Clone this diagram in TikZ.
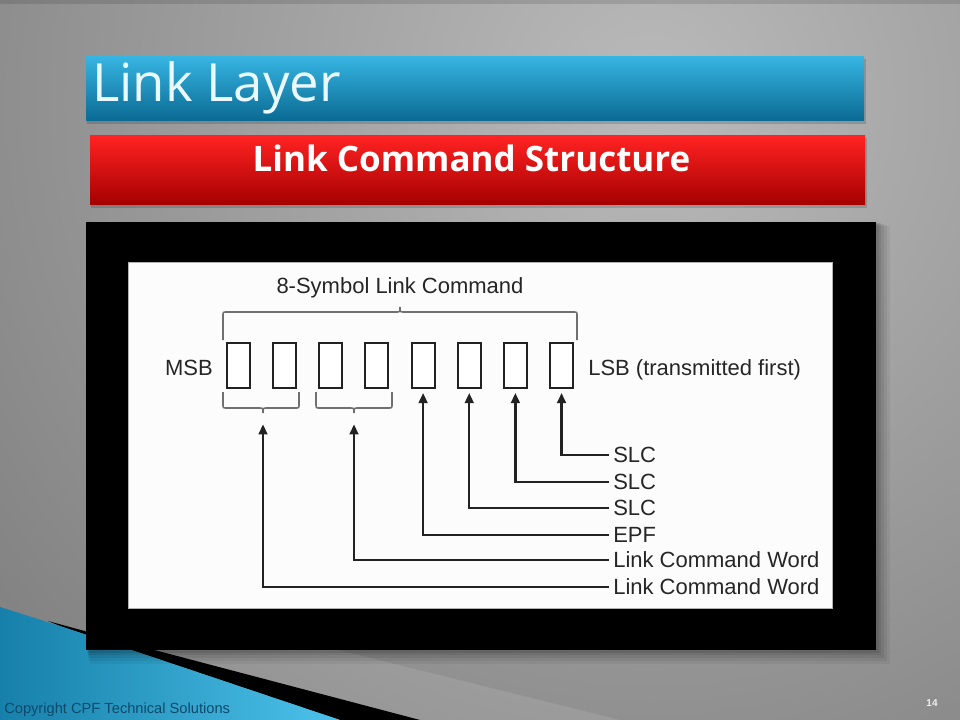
\documentclass[tikz,border=0pt]{standalone}
\usepackage{fontspec}
\setmainfont{Liberation Sans}
\newfontfamily\titlefont{Open Sans}
\usetikzlibrary{arrows.meta}
\definecolor{bgin}{HTML}{BABABA}
\definecolor{bgout}{HTML}{4E4E4E}
\definecolor{bluetop}{HTML}{36B4E2}
\definecolor{bluemid}{HTML}{1690BE}
\definecolor{bluebot}{HTML}{0A6A92}
\definecolor{redtop}{HTML}{FF2222}
\definecolor{redmid}{HTML}{E20404}
\definecolor{redbot}{HTML}{A40000}
\definecolor{decoL}{HTML}{1680AA}
\definecolor{decoR}{HTML}{4CC2EA}
\definecolor{ink}{HTML}{222222}
\definecolor{txt}{HTML}{262626}
\definecolor{bracec}{HTML}{707070}
\definecolor{copyc}{HTML}{0C4A6C}
\definecolor{titlec}{HTML}{EAF8FF}
\tikzset{
  sym/.style={draw=ink, line width=1.5pt, minimum width=17.25pt, minimum height=33.75pt, inner sep=0pt, fill=white},
  lbl/.style={font=\fontsize{16.5}{19}\selectfont, text=txt, inner xsep=3pt, inner ysep=0pt, anchor=west},
  plain/.style={font=\fontsize{16.5}{19}\selectfont, text=txt, inner sep=0pt},
  conn/.style={draw=ink, line width=1.7pt, -{Triangle[length=7.5pt,width=6.5pt]}, shorten >=3pt},
  bconn/.style={conn, shorten >=8.5pt},
  bracestyle/.style={draw=bracec, line width=1.2pt},
}
\begin{document}
\begin{tikzpicture}[x=0.75pt,y=-0.75pt]
\useasboundingbox (0,0) rectangle (960,720);
% background
\begin{scope}
  \clip (0,0) rectangle (960,720);
  \shade[inner color=bgin, outer color=bgout] (-950,-1500) rectangle (2250,1700);
  \fill[black, opacity=0.12] (0,0) rectangle (960,4);
  % lower-left decoration
  \fill[white, opacity=0.10] (143,648) -- (420,720) -- (620,720) -- (330,648) -- cycle;
  \fill[black] (48,621) -- (143,647) -- (420,720) -- (340,720) -- (60,626) -- cycle;
  \shade[left color=decoL, right color=decoR] (0,607) -- (60,626) -- (340,720) -- (0,720) -- cycle;
\end{scope}
% title bars
\fill[black, opacity=0.15] (87,59) rectangle (866,124);
\shade[top color=bluetop, middle color=bluemid, bottom color=bluebot] (86,57) rectangle (864,121);
\fill[black, opacity=0.15] (91,138) rectangle (867,208);
\shade[top color=redtop, middle color=redmid, bottom color=redbot] (90,136) rectangle (865,205);
\node[anchor=base west, inner sep=0pt, font=\titlefont\fontsize{39.5}{44}\selectfont, text=titlec] (title) at (92,102) {Link Layer};
\node[anchor=base, inner sep=0pt, font=\titlefont\bfseries\fontsize{26.25}{30}\selectfont, text=white] (sub) at (471.5,172) {Link Command Structure};
% frame with soft shadow
\foreach \d/\o in {14/0.05,11/0.06,8/0.07,5/0.08,3/0.09} {
  \fill[black, opacity=\o] (86+\d*0.3,222+\d*0.3) rectangle (876+\d,650+\d);
}
\fill[black] (86,222) rectangle (876,650);
\fill[white!98!gray] (128,262) rectangle (832,608);
\draw[gray!60, line width=0.6pt] (128,262) rectangle (832,608);
% diagram
\foreach \i in {1,...,8} {
  \node[sym] (b\i) at ({238.5+46.15*(\i-1)},365.5) {};
}
\node[plain, anchor=base] (top) at (400,294) {8-Symbol Link Command};
\node[plain, anchor=base east] (msb) at (213,375) {MSB};
\node[plain, anchor=base west] (lsb) at (588,375) {LSB (transmitted first)};
% braces
\draw[bracestyle] (223,340) -- (223,316) .. controls (223,312) .. (227,312) -- (396,312)
  .. controls (400,312) .. (400,307) .. controls (400,312) .. (404,312) -- (573,312)
  .. controls (577,312) .. (577,316) -- (577,340);
\draw[bracestyle] (223,392) -- (223,404) .. controls (223,408) .. (227,408) -- (259,408)
  .. controls (263,408) .. (263,413) .. controls (263,408) .. (267,408) -- (295,408)
  .. controls (299,408) .. (299,404) -- (299,392);
\draw[bracestyle] (316,392) -- (316,404) .. controls (316,408) .. (320,408) -- (350,408)
  .. controls (354,408) .. (354,413) .. controls (354,408) .. (358,408) -- (388,408)
  .. controls (392,408) .. (392,404) -- (392,392);
\coordinate (br1) at (263,413);
\coordinate (br2) at (354,413);
% labels
\node[lbl] (l1) at (609,455) {SLC};
\node[lbl] (l2) at (609,482) {SLC};
\node[lbl] (l3) at (609,508) {SLC};
\node[lbl] (l4) at (609,535) {EPF};
\node[lbl] (l5) at (609,560) {Link Command Word};
\node[lbl] (l6) at (609,587) {Link Command Word};
% connectors
\draw[conn] (l1.west) -| (b8.south);
\draw[conn] (l2.west) -| (b7.south);
\draw[conn] (l3.west) -| (b6.south);
\draw[conn] (l4.west) -| (b5.south);
\draw[bconn] (l5.west) -| (br2);
\draw[bconn] (l6.west) -| (br1);
% footer
\node[anchor=base west, inner sep=0pt, font=\fontsize{11}{13}\selectfont, text=copyc] (copy) at (4,713) {Copyright CPF Technical Solutions};
\node[inner sep=0pt, font=\bfseries\fontsize{7.5}{9}\selectfont, text=gray!12] (page) at (932,703) {14};
\end{tikzpicture}
\end{document}
